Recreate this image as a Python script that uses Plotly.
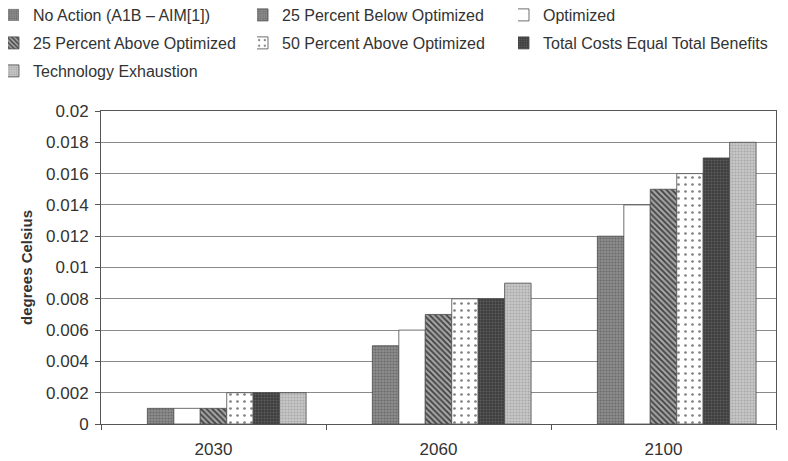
import plotly.graph_objects as go

years = ["2030", "2060", "2100"]
series_names = [
    "No Action (A1B – AIM[1])",
    "25 Percent Below Optimized",
    "Optimized",
    "25 Percent Above Optimized",
    "50 Percent Above Optimized",
    "Total Costs Equal Total Benefits",
    "Technology Exhaustion",
]
no_action = [0, 0, 0]
below_25 = [0.001, 0.005, 0.012]
optimized = [0.001, 0.006, 0.014]
above_25 = [0.001, 0.007, 0.015]
above_50 = [0.002, 0.008, 0.016]
total_costs = [0.002, 0.008, 0.017]
tech_exhaustion = [0.002, 0.009, 0.018]
series_values = [no_action, below_25, optimized, above_25, above_50, total_costs, tech_exhaustion]

y_tickvals = [0, 0.002, 0.004, 0.006, 0.008, 0.01, 0.012, 0.014, 0.016, 0.018, 0.02]
y_ticktext = ["0", "0.002", "0.004", "0.006", "0.008", "0.01", "0.012", "0.014", "0.016", "0.018", "0.02"]

# styles: (bgcolor, fgcolor, shape, size, solidity)
styles = [
    ("#8e8e8e", "#6a6a6a", ".", 3, 0.4),
    ("#8e8e8e", "#6a6a6a", ".", 3, 0.4),
    ("#ffffff", None, None, None, None),
    ("#a4a4a4", "#404040", "\\", 4, 0.45),
    ("#ffffff", "#808080", ".", 7, 0.12),
    ("#3c3c3c", "#5e5e5e", ".", 3, 0.4),
    ("#c8c8c8", "#a8a8a8", ".", 3, 0.4),
]

# page offset of the plot div (browser default body margin)
OFF = 8
# legend layout in page pixels: (text x start, row center y)
legend_pos = [(22, 15), (282, 15), (543, 15), (22, 43), (282, 43), (543, 43), (22, 71)]

W, H = 788 - OFF, 461 - OFF
ML, MR, MT, MB = 101 - OFF, 12, 111 - OFF, 37
PW = W - ML - MR
FONT = "Liberation Sans, Arial, sans-serif"
TXT = "#333333"

fig = go.Figure()
legend_layouts = {}
for i, (name, vals, st) in enumerate(zip(series_names, series_values, styles)):
    bg, fg, shape, size, sol = st
    lname = "legend" if i == 0 else f"legend{i+1}"
    marker = dict(color=bg, line=dict(color="#4a4a4a", width=0.8 if i > 0 else 0))
    if shape is not None:
        marker["pattern"] = dict(shape=shape, bgcolor=bg, fgcolor=fg, size=size,
                                 solidity=sol, fillmode="replace")
    fig.add_trace(go.Bar(x=years, y=vals, name=name, marker=marker, legend=lname))
    tx, ty = legend_pos[i]
    left_px = max(0, tx - OFF - 25)
    legend_layouts[lname] = dict(
        xref="container", yref="container",
        x=left_px / W, y=1 - (ty - OFF) / H, xanchor="left", yanchor="middle",
        orientation="h", bgcolor="rgba(0,0,0,0)", borderwidth=0,
        indentation=-15,
        font=dict(family=FONT, size=16, color=TXT),
    )

fig.update_layout(
    width=W, height=H,
    margin=dict(l=ML, r=MR, t=MT, b=MB, autoexpand=False),
    paper_bgcolor="white", plot_bgcolor="white",
    barmode="group", bargap=0.177, bargroupgap=0,
    font=dict(family=FONT, size=16, color=TXT),
    showlegend=True,
    **legend_layouts,
)
fig.update_xaxes(
    type="category", automargin=False,
    showline=True, linecolor="#555555", linewidth=1, mirror=True,
    ticks="outside", tickson="boundaries", ticklen=5, tickcolor="#555555",
    showgrid=False,
    tickfont=dict(family=FONT, size=17, color=TXT),
    ticklabelstandoff=10,
)
fig.update_yaxes(
    range=[0, 0.02], automargin=False,
    tickvals=y_tickvals, ticktext=y_ticktext,
    showline=True, linecolor="#555555", linewidth=1, mirror=True,
    ticks="outside", ticklen=5, tickcolor="#555555",
    showgrid=True, gridcolor="#8a8a8a", gridwidth=1,
    zeroline=False,
    tickfont=dict(family=FONT, size=17, color=TXT),
    ticklabelstandoff=3,
    title=dict(text="<b>degrees Celsius</b>", font=dict(family=FONT, size=15, color=TXT), standoff=9),
)

fig.write_html("out.html")
